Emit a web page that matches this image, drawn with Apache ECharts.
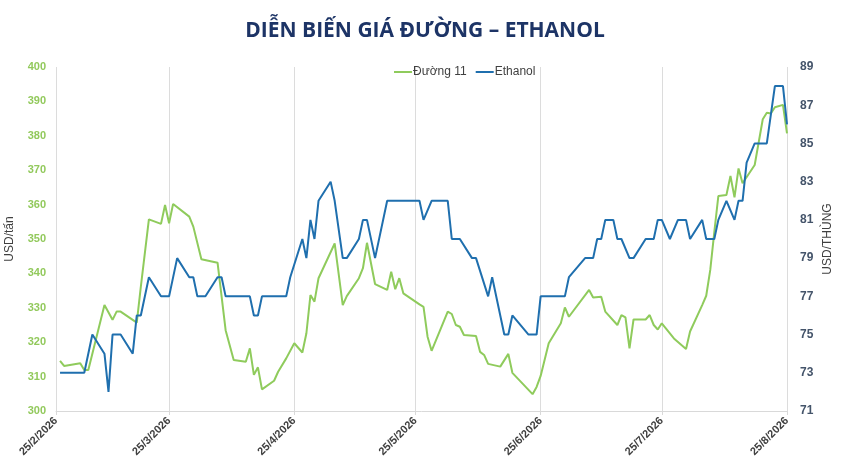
<!DOCTYPE html>
<html>
<head>
<meta charset="utf-8">
<script src="https://cdn.jsdelivr.net/npm/echarts@6/dist/echarts.min.js"></script>
<style>
  html, body { margin: 0; padding: 0; background: #fff; }
  #chart { width: 850px; height: 473px; }
</style>
</head>
<body>
<div id="chart"></div>
<script>
// Đường 11 (USD/tấn)
var sugarDates = [
  '2026-02-26', '2026-02-27', '2026-03-03', '2026-03-04', '2026-03-05', '2026-03-09', '2026-03-11',
  '2026-03-12', '2026-03-13', '2026-03-17', '2026-03-18', '2026-03-20', '2026-03-23', '2026-03-24',
  '2026-03-25', '2026-03-26', '2026-03-30', '2026-03-31', '2026-04-02', '2026-04-06', '2026-04-08',
  '2026-04-10', '2026-04-13', '2026-04-14', '2026-04-15', '2026-04-16', '2026-04-17', '2026-04-20',
  '2026-04-21', '2026-04-23', '2026-04-25', '2026-04-27', '2026-04-28', '2026-04-29', '2026-04-30',
  '2026-05-01', '2026-05-05', '2026-05-07', '2026-05-08', '2026-05-11', '2026-05-12', '2026-05-13',
  '2026-05-15', '2026-05-18', '2026-05-19', '2026-05-20', '2026-05-21', '2026-05-22', '2026-05-26',
  '2026-05-27', '2026-05-28', '2026-05-29', '2026-06-02', '2026-06-03', '2026-06-04', '2026-06-05',
  '2026-06-06', '2026-06-09', '2026-06-10', '2026-06-11', '2026-06-12', '2026-06-15', '2026-06-17',
  '2026-06-18', '2026-06-23', '2026-06-24', '2026-06-25', '2026-06-27', '2026-06-30', '2026-07-01',
  '2026-07-02', '2026-07-07', '2026-07-08', '2026-07-10', '2026-07-11', '2026-07-14', '2026-07-15',
  '2026-07-16', '2026-07-17', '2026-07-18', '2026-07-21', '2026-07-22', '2026-07-23', '2026-07-24',
  '2026-07-25', '2026-07-28', '2026-07-31', '2026-08-01', '2026-08-04', '2026-08-05', '2026-08-06',
  '2026-08-07', '2026-08-08', '2026-08-10', '2026-08-11', '2026-08-12', '2026-08-13', '2026-08-14',
  '2026-08-17', '2026-08-19', '2026-08-20', '2026-08-21', '2026-08-22', '2026-08-24', '2026-08-25'
];
var sugarPrices = [
  314.6, 313.1, 313.9, 311.9, 311.9, 330.8, 326.5,
  328.9, 328.9, 325.7, 336.1, 355.7, 354.4, 359.9,
  354.6, 360.2, 356.5, 353.6, 344.1, 343.1, 323.5,
  314.8, 314.3, 318.2, 310.5, 312.7, 306.3, 308.8,
  311.4, 315.3, 319.7, 317.0, 322.6, 333.7, 331.8,
  338.6, 348.7, 330.8, 333.4, 338.6, 341.5, 348.9,
  336.9, 335.2, 340.5, 335.4, 338.6, 334.2, 331.0,
  330.3, 321.6, 317.5, 328.9, 328.2, 325.0, 324.5,
  322.1, 321.8, 317.2, 316.3, 313.7, 312.9, 316.6,
  311.1, 304.9, 307.0, 310.2, 319.7, 325.5, 330.1,
  327.4, 335.2, 333.0, 333.2, 328.9, 325.0, 327.9,
  327.2, 318.2, 326.6, 326.6, 327.9, 325.0, 323.7,
  325.5, 321.1, 318.0, 323.1, 330.8, 333.5, 341.0,
  352.0, 362.5, 362.8, 368.3, 362.1, 370.5, 366.2,
  371.5, 384.8, 386.7, 386.5, 388.3, 389.0, 380.7
];

// Ethanol (USD/thùng)
var ethanolDates = [
  '2026-02-26', '2026-03-04', '2026-03-06', '2026-03-09', '2026-03-10', '2026-03-11', '2026-03-13',
  '2026-03-16', '2026-03-17', '2026-03-18', '2026-03-20', '2026-03-23', '2026-03-25', '2026-03-27',
  '2026-03-30', '2026-03-31', '2026-04-01', '2026-04-03', '2026-04-06', '2026-04-07', '2026-04-08',
  '2026-04-14', '2026-04-15', '2026-04-16', '2026-04-17', '2026-04-23', '2026-04-24', '2026-04-27',
  '2026-04-28', '2026-04-29', '2026-04-30', '2026-05-01', '2026-05-04', '2026-05-05', '2026-05-07',
  '2026-05-08', '2026-05-11', '2026-05-12', '2026-05-13', '2026-05-15', '2026-05-18', '2026-05-26',
  '2026-05-27', '2026-05-29', '2026-06-02', '2026-06-03', '2026-06-05', '2026-06-08', '2026-06-09',
  '2026-06-12', '2026-06-13', '2026-06-16', '2026-06-17', '2026-06-18', '2026-06-22', '2026-06-24',
  '2026-06-25', '2026-07-01', '2026-07-02', '2026-07-06', '2026-07-08', '2026-07-09', '2026-07-10',
  '2026-07-11', '2026-07-13', '2026-07-14', '2026-07-15', '2026-07-17', '2026-07-18', '2026-07-21',
  '2026-07-23', '2026-07-24', '2026-07-25', '2026-07-27', '2026-07-29', '2026-07-31', '2026-08-01',
  '2026-08-04', '2026-08-05', '2026-08-07', '2026-08-08', '2026-08-10', '2026-08-12', '2026-08-13',
  '2026-08-14', '2026-08-15', '2026-08-17', '2026-08-20', '2026-08-22', '2026-08-24', '2026-08-25'
];
var ethanolPrices = [
  73, 73, 75, 74, 72, 75, 75,
  74, 76, 76, 78, 77, 77, 79,
  78, 78, 77, 77, 78, 78, 77,
  77, 76, 76, 77, 77, 78, 80,
  79, 81, 80, 82, 83, 82, 79,
  79, 80, 81, 81, 79, 82, 82,
  81, 82, 82, 80, 80, 79, 79,
  77, 78, 75, 75, 76, 75, 75,
  77, 77, 78, 79, 79, 80, 80,
  81, 81, 80, 80, 79, 79, 80,
  80, 81, 81, 80, 81, 81, 80,
  81, 80, 80, 81, 82, 81, 82,
  82, 84, 85, 85, 88, 88, 86
];

// vạch chia trục thời gian
var tickDates = ['2026-02-25', '2026-03-25', '2026-04-25', '2026-05-25', '2026-06-25', '2026-07-25', '2026-08-25'];
var tickLabels = ['25/2/2026', '25/3/2026', '25/4/2026', '25/5/2026', '25/6/2026', '25/7/2026', '25/8/2026'];

function toTime(d) { return +echarts.time.parse(d); }
var tickValues = tickDates.map(toTime);

function pairs(dates, values) {
  return dates.map(function (d, i) { return [toTime(d), values[i]]; });
}

var chart = echarts.init(document.getElementById('chart'));
chart.setOption({
  animation: false,
  textStyle: { fontFamily: 'Liberation Sans, Arial, sans-serif' },
  title: {
    text: 'DIỄN BIẾN GIÁ ĐƯỜNG – ETHANOL',
    left: 'center',
    top: 16,
    textStyle: {
      fontFamily: 'Open Sans',
      fontSize: 21,
      fontWeight: 'bold',
      color: '#1d3466',
    },
  },
  legend: {
    left: 393,
    top: 66,
    padding: 0,
    itemWidth: 18,
    itemHeight: 2,
    itemGap: 8,
    textStyle: { color: '#404040', fontSize: 12, padding: [0, 0, 0, -4] },
    data: ['Đường 11', 'Ethanol'],
  },
  grid: { left: 56, right: 63, top: 67, bottom: 62, containLabel: false, outerBoundsMode: 'none' },
  xAxis: {
    type: 'value',
    min: tickValues[0],
    max: tickValues[tickValues.length - 1],
    axisLine: { show: true, lineStyle: { color: '#d9d9d9' } },
    axisTick: { show: true, length: 4, customValues: tickValues, lineStyle: { color: '#d9d9d9' } },
    splitLine: { show: true, lineStyle: { color: '#dcdcdc', width: 1 } },
    axisLabel: {
      customValues: tickValues,
      rotate: 45,
      margin: 8,
      color: '#404040',
      fontSize: 11,
      fontWeight: 'bold',
      formatter: function (val) {
        var idx = tickValues.indexOf(val);
        return idx >= 0 ? tickLabels[idx] : '';
      },
    },
  },
  yAxis: [
    {
      type: 'value',
      min: 300,
      max: 400,
      interval: 10,
      name: 'USD/tấn',
      nameLocation: 'middle',
      nameGap: 40,
      nameMoveOverlap: false,
      nameTextStyle: { color: '#404040', fontSize: 12 },
      axisLine: { show: false },
      axisTick: { show: false },
      splitLine: { show: false },
      axisLabel: { color: '#92c95c', fontSize: 11, fontWeight: 'bold', margin: 10 },
    },
    {
      type: 'value',
      min: 71,
      max: 89,
      interval: 2,
      name: 'USD/THÙNG',
      nameLocation: 'middle',
      nameGap: 35,
      nameMoveOverlap: false,
      nameTextStyle: { color: '#404040', fontSize: 12 },
      axisLine: { show: false },
      axisTick: { show: false },
      splitLine: { show: false },
      axisLabel: { color: '#44546a', fontSize: 12, fontWeight: 'bold', margin: 13 },
    },
  ],
  series: [
    {
      name: 'Đường 11',
      type: 'line',
      yAxisIndex: 0,
      symbol: 'none',
      lineStyle: { color: '#8fcb5c', width: 2 },
      itemStyle: { color: '#8fcb5c' },
      data: pairs(sugarDates, sugarPrices),
    },
    {
      name: 'Ethanol',
      type: 'line',
      yAxisIndex: 1,
      symbol: 'none',
      lineStyle: { color: '#1f6fae', width: 2 },
      itemStyle: { color: '#1f6fae' },
      data: pairs(ethanolDates, ethanolPrices),
    },
  ],
});
</script>
</body>
</html>
